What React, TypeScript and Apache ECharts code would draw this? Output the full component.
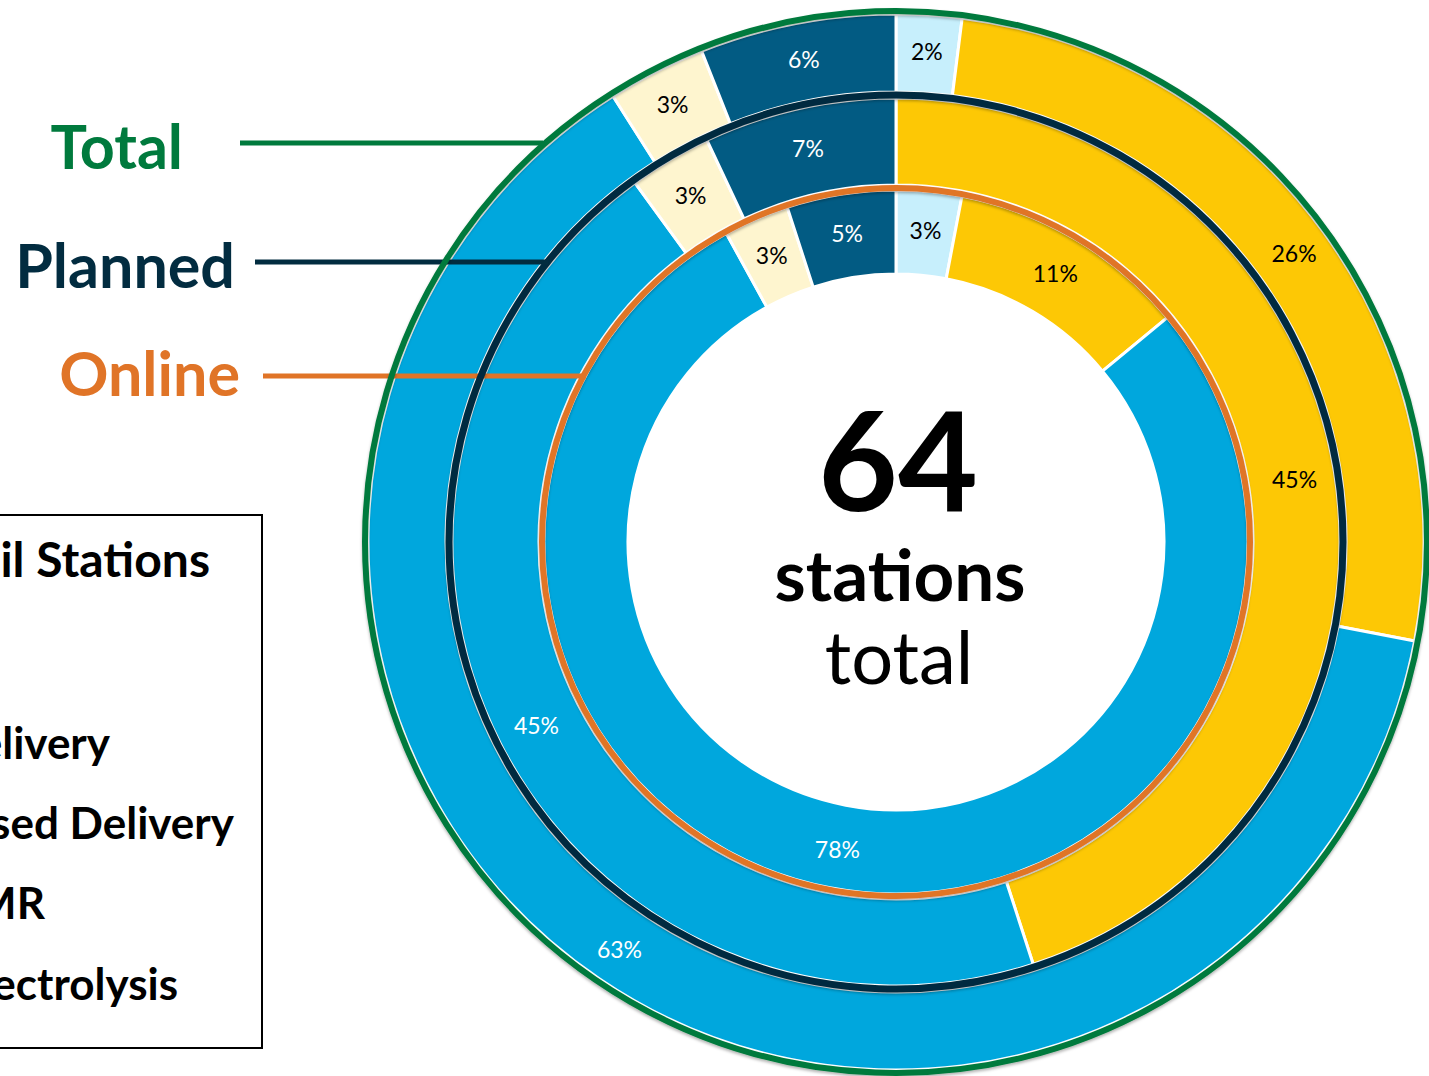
import React, { useEffect, useRef } from 'react';
import * as echarts from 'echarts';

// ---- data ----
const categories = ['Pipeline', 'Liquid Delivery', 'Compressed Delivery', 'On-site Electrolysis', 'On-site SMR'];
const categoryColors = ['#C7EFFC', '#FDC805', '#00A7DD', '#FEF5CF', '#025B83'];
const labelColors = ['#000000', '#000000', '#FFFFFF', '#000000', '#FFFFFF'];
const onlineValues = [3, 11, 78, 3, 5];
const plannedValues = [0, 45, 45, 3, 7];
const totalValues = [2, 26, 63, 3, 6];
const ringNames = ['Online', 'Planned', 'Total'];
const ringColors = ['#E07427', '#022C40', '#007A3D'];
const stationCount = 64;
const centerWords = ['stations', 'total'];
const legendTitle = 'Retail Stations';
const legendRows = ['Liquid Delivery', 'Compressed Delivery', 'On-site SMR', 'On-site Electrolysis'];

// ---- layout ----
const CX = 896;
const CY = 542;
const FONT = 'Lato, "Open Sans", sans-serif';
const ringLayout = [
  { radius: [268, 352], line: 354, width: 6 },
  { radius: [357, 444], line: 447, width: 7 },
  { radius: [450, 528], line: 531, width: 6 },
];
const ringLabelLayout = [
  { right: 240, y: 372, lineStart: 263, lineEnd: 586, lineY: 376 },
  { right: 235, y: 264, lineStart: 255, lineEnd: 548, lineY: 262 },
  { right: 183, y: 145, lineStart: 240, lineEnd: 543, lineY: 143 },
];
const legendRowRight = [110, 234, 45, 178];
const legendRowY = [742, 822, 902, 983];

export default function App() {
  const ref = useRef<HTMLDivElement>(null);

  useEffect(() => {
    if (!ref.current) return;
    const chart = echarts.init(ref.current, null, { renderer: 'svg' });
    const ringValues = [onlineValues, plannedValues, totalValues];

    const series = ringValues.map((vals, ri) => ({
      type: 'pie',
      name: ringNames[ri],
      center: [CX, CY],
      radius: ringLayout[ri].radius,
      startAngle: 90,
      clockwise: true,
      avoidLabelOverlap: false,
      silent: true,
      z: 2,
      label: {
        show: true,
        position: 'inside',
        formatter: '{c}%',
        fontFamily: FONT,
        fontSize: 23,
        padding: [4, 0, 0, 0],
      },
      labelLine: { show: false },
      itemStyle: { borderColor: '#FFFFFF', borderWidth: 3 },
      data: vals
        .map((v, i) => ({
          value: v,
          name: categories[i],
          itemStyle: { color: categoryColors[i] },
          label: { color: labelColors[i] },
        }))
        .filter((d) => d.value > 0),
    }));

    const graphics: any[] = [];
    // ring outlines, connector lines and ring names
    ringLayout.forEach((rl, ri) => {
      graphics.push({
        type: 'circle',
        z: 100,
        silent: true,
        shape: { cx: CX, cy: CY, r: rl.line },
        style: {
          fill: 'none',
          stroke: ringColors[ri],
          lineWidth: rl.width,
          shadowBlur: 3,
          shadowOffsetY: 2,
          shadowColor: 'rgba(0,0,0,0.3)',
        },
      });
      const ll = ringLabelLayout[ri];
      graphics.push({
        type: 'line',
        z: 100,
        silent: true,
        shape: { x1: ll.lineStart, y1: ll.lineY, x2: ll.lineEnd, y2: ll.lineY },
        style: { stroke: ringColors[ri], lineWidth: 5 },
      });
      graphics.push({
        type: 'text',
        z: 100,
        silent: true,
        x: ll.right,
        y: ll.y,
        style: {
          text: ringNames[ri],
          fill: ringColors[ri],
          font: `bold 61px ${FONT}`,
          textAlign: 'right',
          textVerticalAlign: 'middle',
        },
      });
    });

    // center text
    graphics.push({
      type: 'text', z: 100, silent: true, x: CX + 2, y: 457,
      style: { text: String(stationCount), fill: '#000', font: `bold 138px ${FONT}`, textAlign: 'center', textVerticalAlign: 'middle' },
    });
    graphics.push({
      type: 'text', z: 100, silent: true, x: CX + 4, y: 573,
      style: { text: centerWords[0], fill: '#000', font: `bold 71px ${FONT}`, textAlign: 'center', textVerticalAlign: 'middle' },
    });
    graphics.push({
      type: 'text', z: 100, silent: true, x: CX + 3, y: 655,
      style: { text: centerWords[1], fill: '#000', font: `normal 74px ${FONT}`, textAlign: 'center', textVerticalAlign: 'middle' },
    });

    // legend box (cut off at the left edge, as in the reference)
    graphics.push({
      type: 'rect', z: 50, silent: true,
      shape: { x: -6, y: 515, width: 268, height: 533 },
      style: { fill: '#FFFFFF', stroke: '#000000', lineWidth: 2 },
    });
    graphics.push({
      type: 'text', z: 60, silent: true, x: 210, y: 558,
      style: { text: legendTitle, fill: '#000', font: `bold 48px ${FONT}`, textAlign: 'right', textVerticalAlign: 'middle' },
    });
    legendRows.forEach((name, i) => {
      graphics.push({
        type: 'text', z: 60, silent: true, x: legendRowRight[i], y: legendRowY[i],
        style: { text: name, fill: '#000', font: `bold 44px ${FONT}`, textAlign: 'right', textVerticalAlign: 'middle' },
      });
    });

    chart.setOption({
      animation: false,
      backgroundColor: '#FFFFFF',
      series,
      graphic: { elements: graphics },
    });

    return () => chart.dispose();
  }, []);

  return (
    <div
      ref={ref}
      style={{ position: 'absolute', left: 0, top: 0, width: 1429, height: 1076 }}
    />
  );
}
